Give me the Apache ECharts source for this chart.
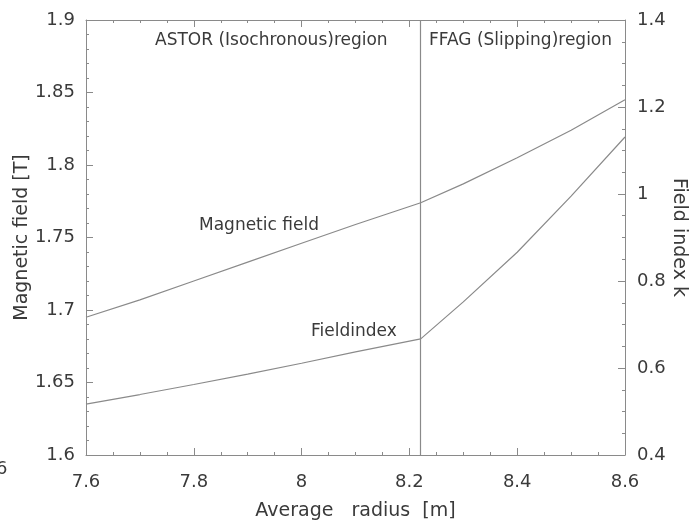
<!DOCTYPE html>
<html>
<head>
<meta charset="utf-8">
<script src="https://cdn.jsdelivr.net/npm/echarts@6/dist/echarts.min.js"></script>
<style>
html,body{margin:0;padding:0;background:#fff;}
#c{width:699px;height:526px;}
</style>
</head>
<body>
<div id="c"></div>
<script>
// Data
var radius = [7.6, 7.7, 7.8, 7.9, 8.0, 8.1, 8.221, 8.3, 8.4, 8.5, 8.6];
var magneticField = [1.695, 1.707, 1.720, 1.733, 1.746, 1.759, 1.774, 1.787, 1.805, 1.824, 1.845];
var fieldIndex = [0.517, 0.539, 0.562, 0.586, 0.611, 0.637, 0.667, 0.752, 0.866, 0.995, 1.131];
var boundaryRadius = 8.221;
var xTicks = [7.6, 7.8, 8, 8.2, 8.4, 8.6];
var leftTicks = [1.6, 1.65, 1.7, 1.75, 1.8, 1.85, 1.9];
var rightTicks = [0.4, 0.6, 0.8, 1, 1.2, 1.4];

var font = '"DejaVu Sans", Arial, sans-serif';
var lineColor = '#8a8a8a';
var textColor = '#3a3a3a';

function pairs(xs, ys){ return xs.map(function(x,i){ return [x, ys[i]]; }); }
function fmt(v){ return String(+v.toFixed(2)); }

var chart = echarts.init(document.getElementById('c'), null, {renderer:'canvas'});

var axisCommon = {
  axisLine:{show:true, lineStyle:{color:lineColor, width:1}},
  axisTick:{show:true, inside:true, length:7, lineStyle:{color:lineColor}},
  minorTick:{show:true, splitNumber:4, length:3, lineStyle:{color:lineColor}},
  splitLine:{show:false},
  nameMoveOverlap:false,
  axisLabel:{color:textColor, fontFamily:font, fontSize:18, formatter:fmt},
  nameTextStyle:{color:textColor, fontFamily:font, fontSize:19}
};

chart.setOption({
  backgroundColor:'#ffffff',
  animation:false,
  grid:{left:86, right:74, top:20, bottom:71, containLabel:false, outerBoundsMode:'none'},
  xAxis:[
    Object.assign({}, axisCommon, {
      type:'value', min:xTicks[0], max:xTicks[xTicks.length-1], interval:0.2,
      position:'bottom',
      name:'Average   radius  [m]', nameLocation:'middle', nameGap:47,
      axisLabel:Object.assign({}, axisCommon.axisLabel, {margin:18})
    }),
    Object.assign({}, axisCommon, {
      type:'value', min:xTicks[0], max:xTicks[xTicks.length-1], interval:0.2,
      position:'top', axisLabel:{show:false}
    })
  ],
  yAxis:[
    Object.assign({}, axisCommon, {
      type:'value', min:leftTicks[0], max:leftTicks[leftTicks.length-1], interval:0.05,
      position:'left',
      minorTick:{show:true, splitNumber:5, length:3, lineStyle:{color:lineColor}},
      name:'Magnetic field [T]', nameLocation:'middle', nameGap:54,
      axisLabel:Object.assign({}, axisCommon.axisLabel, {margin:11})
    }),
    Object.assign({}, axisCommon, {
      type:'value', min:rightTicks[0], max:rightTicks[rightTicks.length-1], interval:0.2,
      position:'right',
      name:'Field index k', nameLocation:'middle', nameGap:44, nameRotate:-90,
      axisLabel:Object.assign({}, axisCommon.axisLabel, {margin:12})
    })
  ],
  series:[
    {
      name:'Magnetic field', type:'line', xAxisIndex:0, yAxisIndex:0,
      data:pairs(radius, magneticField), showSymbol:false, symbol:'none',
      lineStyle:{color:lineColor, width:1.2}, smooth:false,
      markLine:{
        silent:true, symbol:'none', label:{show:false},
        lineStyle:{color:lineColor, width:1.2, type:'solid'},
        data:[{xAxis:boundaryRadius}]
      }
    },
    {
      name:'Field index', type:'line', xAxisIndex:0, yAxisIndex:1,
      data:pairs(radius, fieldIndex), showSymbol:false, symbol:'none',
      lineStyle:{color:lineColor, width:1.2}, smooth:false
    }
  ],
  graphic:[
    {type:'text', x:155, y:41, style:{text:'ASTOR (Isochronous)region', fill:textColor, font:'17px '+font, verticalAlign:'middle', align:'left'}},
    {type:'text', x:429, y:41, style:{text:'FFAG (Slipping)region', fill:textColor, font:'17px '+font, verticalAlign:'middle', align:'left'}},
    {type:'text', x:199, y:226, style:{text:'Magnetic field', fill:textColor, font:'17px '+font, verticalAlign:'middle', align:'left'}},
    {type:'text', x:311, y:332, style:{text:'Fieldindex', fill:textColor, font:'17px '+font, verticalAlign:'middle', align:'left'}},
    {type:'text', x:-4, y:469, style:{text:'6', fill:textColor, font:'18px '+font, verticalAlign:'middle', align:'left'}}
  ]
});
</script>
</body>
</html>
